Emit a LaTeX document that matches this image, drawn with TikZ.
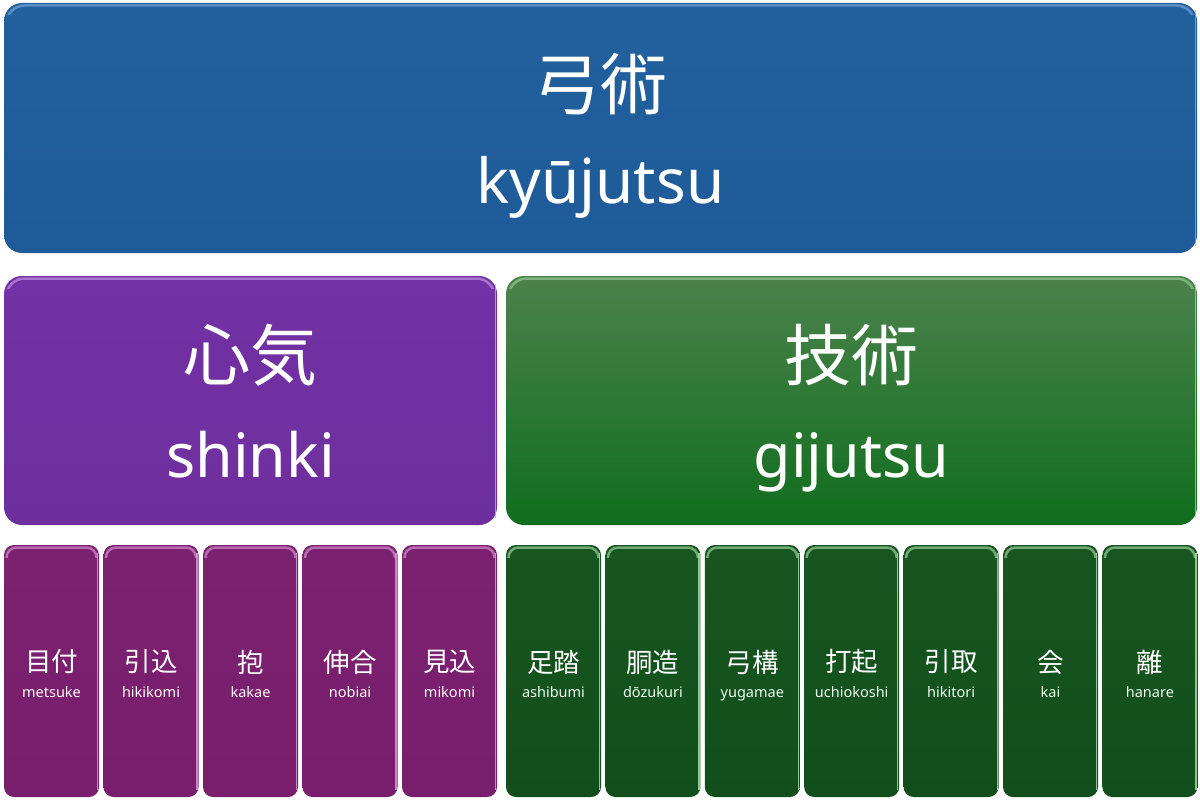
\documentclass[tikz,border=0pt]{standalone}
\usepackage{fontspec}
\setmainfont{Noto Sans}
\newfontfamily\cjk{Noto Sans CJK JP}
\definecolor{blueT}{RGB}{34,96,158}
\definecolor{blueB}{RGB}{30,91,152}
\definecolor{blueH}{RGB}{130,175,225}
\definecolor{purT}{RGB}{114,49,164}
\definecolor{purB}{RGB}{110,47,158}
\definecolor{purH}{RGB}{205,160,235}
\definecolor{grnT}{RGB}{76,130,76}
\definecolor{grnB}{RGB}{16,110,30}
\definecolor{grnH}{RGB}{160,210,160}
\definecolor{cpurT}{RGB}{124,33,112}
\definecolor{cpurB}{RGB}{120,30,108}
\definecolor{cpurH}{RGB}{225,160,220}
\definecolor{cgrnT}{RGB}{23,86,32}
\definecolor{cgrnB}{RGB}{18,78,28}
\definecolor{cgrnH}{RGB}{175,225,175}
\newcommand\glossbox[3]{%
  \begin{scope}
    \clip ([yshift=-12pt]#1.north west) rectangle (#1.north east);
    \draw[#2, line width=2.5pt, rounded corners=#3, opacity=.6]
      ([shift={(2.5pt,-2.5pt)}]#1.north west) rectangle ([shift={(-2.5pt,2.5pt)}]#1.south east);
  \end{scope}
  \begin{scope}
    \clip ([xshift=-3pt,yshift=-8pt]#1.north east) rectangle ([yshift=8pt]#1.south east);
    \draw[#2, line width=1.2pt, opacity=.8]
      ([xshift=-1.5pt]#1.north east) -- ([xshift=-1.5pt]#1.south east);
  \end{scope}
}
\tikzset{
  panel/.style={anchor=north west, inner sep=0pt, outer sep=0pt, draw=none},
  bigbox/.style={panel, rounded corners=18pt},
  cellbox/.style={panel, rounded corners=10pt, minimum width=95pt, minimum height=252pt},
  txt/.style={inner sep=0pt, text=white},
  bigkanji/.style={txt, anchor=center, font=\cjk\fontsize{67}{67}\selectfont},
  bigroma/.style={txt, anchor=base, font=\fontsize{62}{62}\selectfont},
  midroma/.style={txt, anchor=base, font=\fontsize{61}{61}\selectfont},
  smallkanji/.style={txt, anchor=center, font=\cjk\fontsize{26.5}{27}\selectfont},
  smallroma/.style={txt, anchor=base, text=white!92!pink, font=\fontsize{14.5}{15}\selectfont},
}
\begin{document}
\begin{tikzpicture}[x=1pt,y=-1pt]
\useasboundingbox (0,0) rectangle (1200,800);
% top
\node[bigbox, top color=blueT, bottom color=blueB, minimum width=1193pt, minimum height=250pt] (top) at (4,3) {};
\glossbox{top}{blueH}{18pt}
\node[bigkanji] (topk) at ([yshift=44pt]top.center) {弓術};
\node[bigroma] (topr) at ([yshift=-75pt]top.center) {kyūjutsu};
% middle
\node[bigbox, top color=purT, bottom color=purB, minimum width=493pt, minimum height=249pt] (shinki) at (4,276) {};
\glossbox{shinki}{purH}{18pt}
\node[bigkanji] (shinkik) at ([yshift=45.5pt]shinki.center) {心気};
\node[midroma] (shinkir) at ([yshift=-76.5pt]shinki.center) {shinki};
\node[bigbox, top color=grnT, bottom color=grnB, minimum width=691pt, minimum height=249pt] (gijutsu) at (506,276) {};
\glossbox{gijutsu}{grnH}{18pt}
\node[bigkanji] (gijutsuk) at ([yshift=45.5pt]gijutsu.center) {技術};
\node[midroma] (gijutsur) at ([yshift=-76.5pt]gijutsu.center) {gijutsu};
% bottom purple cells
\foreach \i/\k/\r in {1/目付/metsuke,2/引込/hikikomi,3/抱/kakae,4/伸合/nobiai,5/見込/mikomi}{
  \pgfmathsetmacro\xx{4+(\i-1)*99.5}
  \node[cellbox, top color=cpurT, bottom color=cpurB] (p\i) at (\xx,545) {};
  \glossbox{p\i}{cpurH}{10pt}
  \node[smallkanji] (pk\i) at ([yshift=9pt]p\i.center) {\k};
  \node[smallroma] (pr\i) at ([yshift=-26pt]p\i.center) {\r};
}
% bottom green cells
\foreach \i/\k/\r in {1/足踏/ashibumi,2/胴造/dōzukuri,3/弓構/yugamae,4/打起/uchiokoshi,5/引取/hikitori,6/会/kai,7/離/hanare}{
  \pgfmathsetmacro\xx{506+(\i-1)*99.4}
  \node[cellbox, top color=cgrnT, bottom color=cgrnB] (g\i) at (\xx,545) {};
  \glossbox{g\i}{cgrnH}{10pt}
  \node[smallkanji] (gk\i) at ([yshift=9pt]g\i.center) {\k};
  \node[smallroma, text=white!92!green] (gr\i) at ([yshift=-26pt]g\i.center) {\r};
}
\end{tikzpicture}
\end{document}
